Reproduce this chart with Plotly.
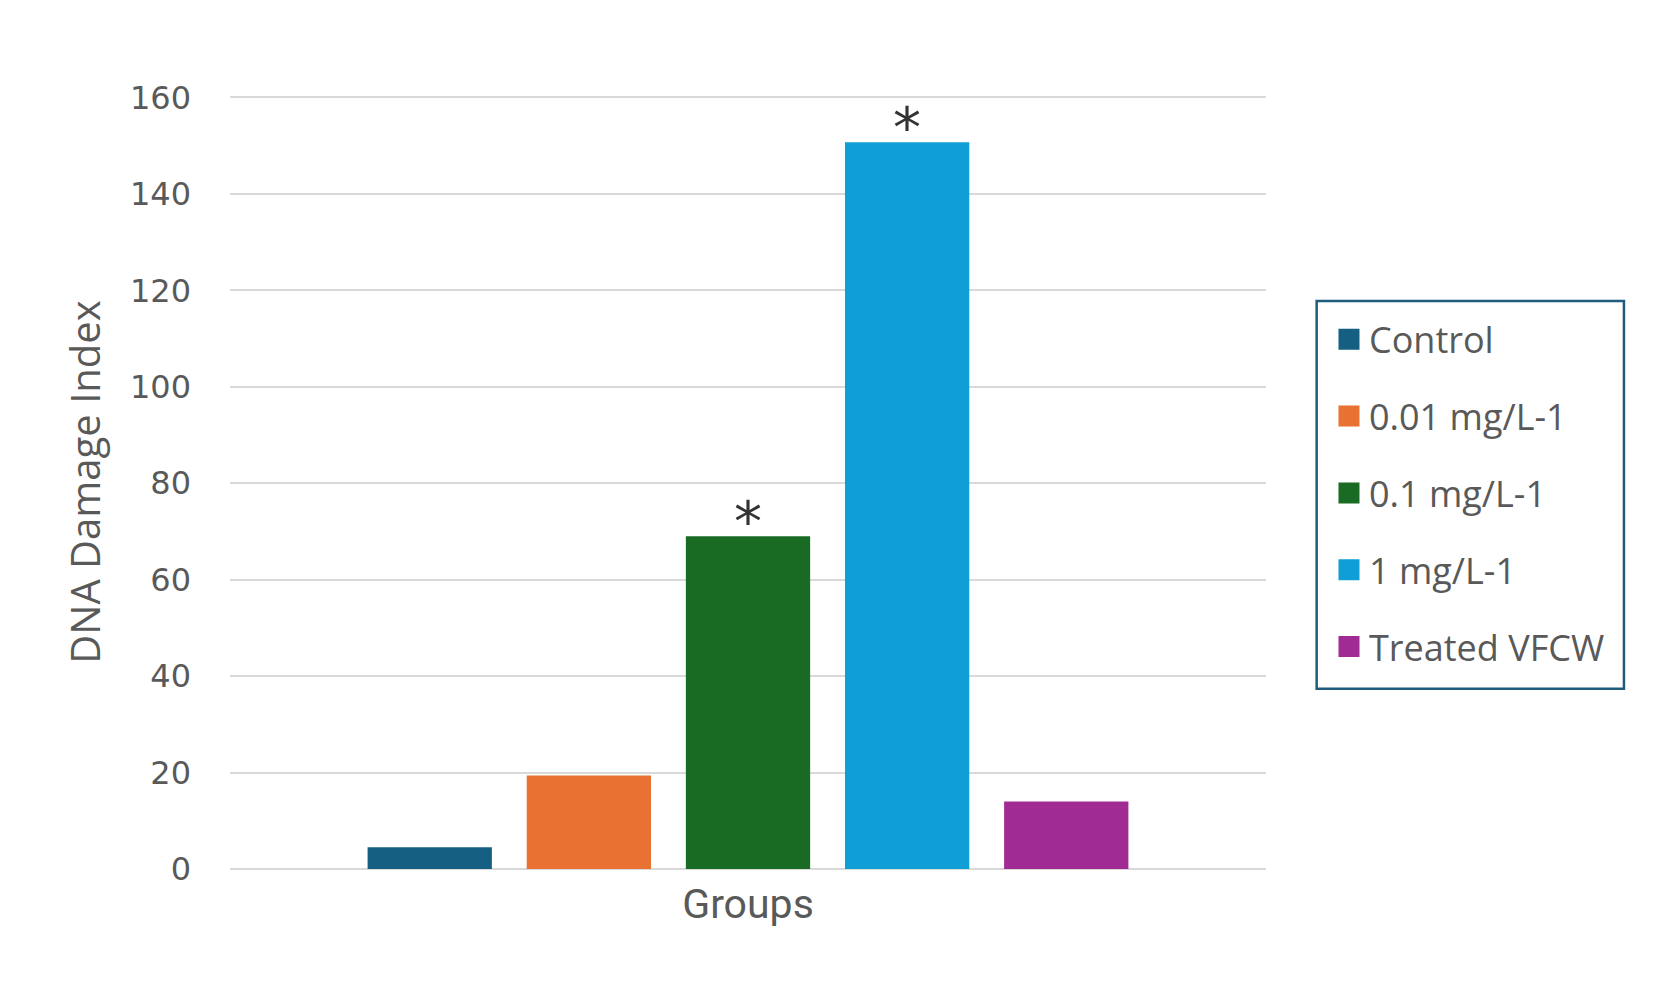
import plotly.graph_objects as go

categories = ["Groups"]
series_names = ["Control", "0.01 mg/L-1", "0.1 mg/L-1", "1 mg/L-1", "Treated VFCW"]
series_values = [4.5, 19.4, 69.0, 150.7, 14.0]
series_colors = ["#156082", "#E97132", "#196B24", "#0F9ED5", "#A02B93"]
significance = ["", "", "*", "*", ""]
y_ticks = [0, 20, 40, 60, 80, 100, 120, 140, 160]

BARGAP = 0.232
BARGROUPGAP = 0.219
GREY = "#595959"

fig = go.Figure()
for i, (name, val, col) in enumerate(zip(series_names, series_values, series_colors)):
    fig.add_trace(go.Bar(
        x=categories, y=[val], name=name, marker=dict(color=col, line=dict(width=0)),
        showlegend=False, hoverinfo="name+y",
    ))
# legend entries (larger square swatches)
for i, (name, col) in enumerate(zip(series_names, series_colors)):
    fig.add_trace(go.Scatter(
        x=[None], y=[None], name=name, mode="markers", legendgroup=f"g{i}",
        marker=dict(symbol="square", size=16, color=col, line=dict(width=5, color=col)),
    ))

n = len(series_names)
slot = (1 - BARGAP) / n
for i, (val, mark) in enumerate(zip(series_values, significance)):
    if mark:
        fig.add_annotation(
            x=(i - (n - 1) / 2) * slot, y=val, xref="x", yref="y",
            text=mark, showarrow=False, yanchor="bottom", yshift=-20,
            font=dict(family="DejaVu Sans", size=56, color="#333333"),
        )

# legend frame
fig.add_shape(type="rect", xref="paper", yref="paper",
              x0=1.0489, x1=1.3455, y0=0.2330, y1=0.7338,
              line=dict(color="#1F5C7C", width=2.5), fillcolor="rgba(0,0,0,0)")

fig.update_layout(
    width=1653, height=990,
    margin=dict(l=222, r=395, t=86.6, b=129.3, autoexpand=False),
    paper_bgcolor="white", plot_bgcolor="white",
    barmode="group", bargap=BARGAP, bargroupgap=BARGROUPGAP,
    showlegend=True,
    legend=dict(
        x=1.0608, y=0.723, xanchor="left", yanchor="top",
        borderwidth=0, bgcolor="rgba(0,0,0,0)",
        font=dict(family="Open Sans", size=36, color=GREY),
        tracegroupgap=27, traceorder="grouped",
    ),
)
fig.update_yaxes(
    range=[0, 160.5], tickvals=y_ticks, ticktext=[str(t) for t in y_ticks],
    showgrid=True, gridcolor="#D9D9D9", gridwidth=2,
    zeroline=True, zerolinecolor="#D9D9D9", zerolinewidth=2,
    showline=False, ticks="", ticklabelstandoff=38,
    tickfont=dict(family="DejaVu Sans", size=32, color=GREY),
    title=dict(text="DNA Damage Index", standoff=16,
               font=dict(family="Open Sans", size=40, color=GREY)),
)
fig.update_xaxes(
    showticklabels=False, showgrid=False, showline=False, ticks="",
    title=dict(text="Groups", standoff=20,
               font=dict(family="Roboto", size=41, color=GREY)),
)

fig.write_html("out.html")
